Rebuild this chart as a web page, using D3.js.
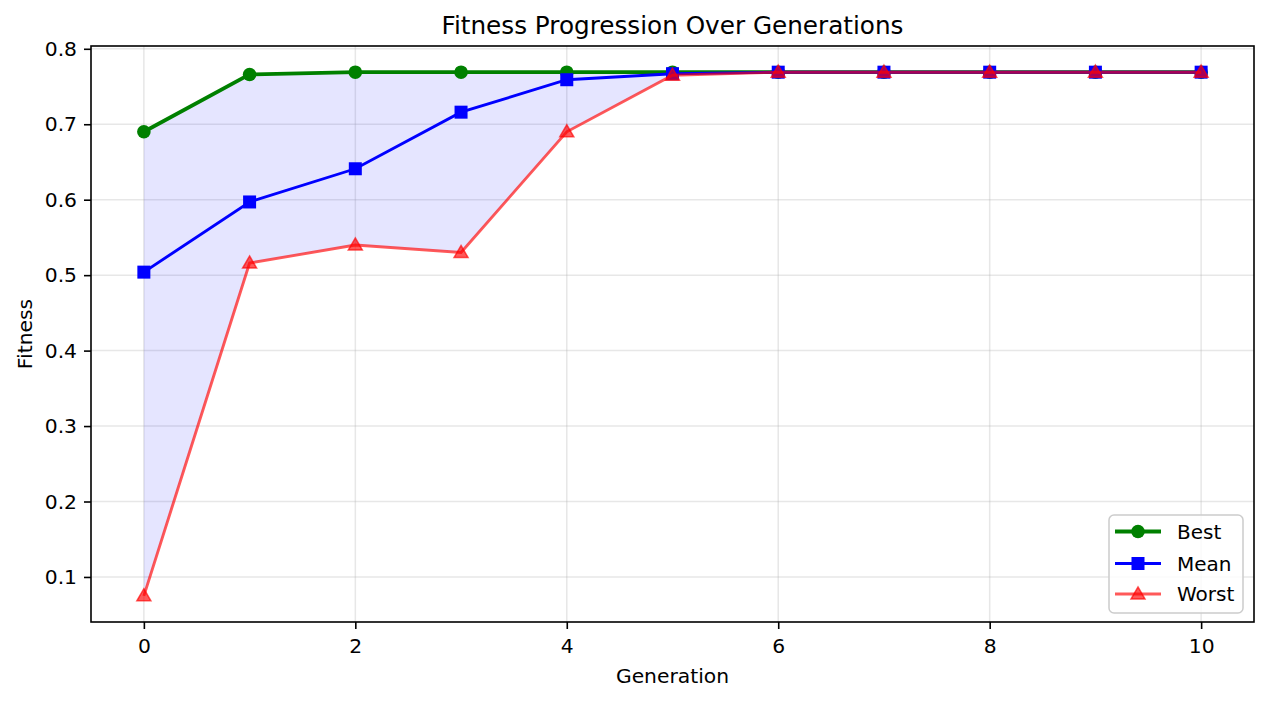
<!DOCTYPE html>
<html><head><meta charset="utf-8">
<script src="https://cdn.jsdelivr.net/npm/d3@7"></script>
<style>body{margin:0;background:#fff;}svg{display:block;font-family:"DejaVu Sans",sans-serif;}</style>
</head><body>
<svg id="c" width="1268" height="701"></svg>
<script>
const generations = [0,1,2,3,4,5,6,7,8,9,10];
const bestFitness  = [0.690,0.766,0.769,0.769,0.769,0.769,0.769,0.769,0.769,0.769,0.769];
const meanFitness  = [0.504,0.597,0.641,0.716,0.759,0.767,0.769,0.769,0.769,0.769,0.769];
const worstFitness = [0.075,0.516,0.540,0.530,0.690,0.765,0.769,0.769,0.769,0.769,0.769];
const xTicks = [0,2,4,6,8,10];
const yTicks = [0.1,0.2,0.3,0.4,0.5,0.6,0.7,0.8];
const seriesNames = ["Best","Mean","Worst"];

const svg = d3.select("#c");
const L=91, R=1254, T=46, B=622;
const FS = 20.3;
const x = d3.scaleLinear().domain([-0.5,10.5]).range([L,R]);
const y = d3.scaleLinear().domain([0.0403,0.8037]).range([B,T]);

// grid
const g = svg.append("g");
g.selectAll(".gx").data(xTicks).join("line").attr("x1",d=>x(d)).attr("x2",d=>x(d)).attr("y1",T).attr("y2",B)
  .attr("stroke","#b0b0b0").attr("stroke-opacity",0.3).attr("stroke-width",1.5);
g.selectAll(".gy").data(yTicks).join("line").attr("y1",d=>y(d)).attr("y2",d=>y(d)).attr("x1",L).attr("x2",R)
  .attr("stroke","#b0b0b0").attr("stroke-opacity",0.3).attr("stroke-width",1.5);

// fill between worst and best
const area = d3.area().x((d,i)=>x(generations[i])).y0((d,i)=>y(worstFitness[i])).y1((d,i)=>y(bestFitness[i]));
svg.append("path").datum(generations).attr("d",area).attr("fill","blue").attr("fill-opacity",0.1);

const line = vals => d3.line().x((d,i)=>x(generations[i])).y((d,i)=>y(vals[i]))(vals);
const tri = d3.symbol().type(d3.symbolTriangle).size(85);

// Best
svg.append("path").attr("d",line(bestFitness)).attr("fill","none").attr("stroke","green").attr("stroke-width",3.8);
svg.selectAll(".bm").data(bestFitness).join("circle").attr("cx",(d,i)=>x(generations[i])).attr("cy",d=>y(d)).attr("r",6.8).attr("fill","green");
// Mean
svg.append("path").attr("d",line(meanFitness)).attr("fill","none").attr("stroke","blue").attr("stroke-width",2.9);
svg.selectAll(".mm").data(meanFitness).join("rect").attr("x",(d,i)=>x(generations[i])-6.5).attr("y",d=>y(d)-6.5).attr("width",13).attr("height",13).attr("fill","blue");
// Worst
svg.append("path").attr("d",line(worstFitness)).attr("fill","none").attr("stroke","red").attr("stroke-opacity",0.65).attr("stroke-width",2.9);
svg.selectAll(".wm").data(worstFitness).join("path").attr("d",tri).attr("transform",(d,i)=>`translate(${x(generations[i])},${y(d)+1})`).attr("fill","red").attr("fill-opacity",0.65).attr("stroke","red").attr("stroke-opacity",0.65).attr("stroke-width",1.5);

// axes
const xa = svg.append("g").attr("transform",`translate(0,${B})`).call(d3.axisBottom(x).tickValues(xTicks).tickFormat(d3.format("d")).tickSize(7).tickPadding(10));
const ya = svg.append("g").attr("transform",`translate(${L},0)`).call(d3.axisLeft(y).tickValues(yTicks).tickFormat(d3.format(".1f")).tickSize(7).tickPadding(7));
[xa,ya].forEach(a=>{a.select(".domain").remove();a.selectAll("text").attr("font-size",FS).attr("fill","#000").attr("font-family","DejaVu Sans");a.selectAll("line").attr("stroke","#000").attr("stroke-width",1.6);});
svg.append("rect").attr("x",L).attr("y",T).attr("width",R-L).attr("height",B-T).attr("fill","none").attr("stroke","#000").attr("stroke-width",1.6);

// labels
svg.append("text").attr("x",(L+R)/2).attr("y",34).attr("text-anchor","middle").attr("font-size",24.7).text("Fitness Progression Over Generations");
svg.append("text").attr("x",(L+R)/2).attr("y",683).attr("text-anchor","middle").attr("font-size",FS).text("Generation");
svg.append("text").attr("transform",`translate(32,${(T+B)/2}) rotate(-90)`).attr("text-anchor","middle").attr("font-size",FS).text("Fitness");

// legend
const lg = svg.append("g");
lg.append("rect").attr("x",1109).attr("y",515).attr("width",134).attr("height",98).attr("rx",5).attr("fill","#fff").attr("fill-opacity",0.8).attr("stroke","#cccccc").attr("stroke-width",1.5);
const rows=[531.5,563.5,594];
const lx1=1115, lx2=1161, lm=1138;
lg.append("line").attr("x1",lx1).attr("x2",lx2).attr("y1",rows[0]).attr("y2",rows[0]).attr("stroke","green").attr("stroke-width",3.8);
lg.append("circle").attr("cx",lm).attr("cy",rows[0]).attr("r",6.8).attr("fill","green");
lg.append("line").attr("x1",lx1).attr("x2",lx2).attr("y1",rows[1]).attr("y2",rows[1]).attr("stroke","blue").attr("stroke-width",2.9);
lg.append("rect").attr("x",lm-6.5).attr("y",rows[1]-6.5).attr("width",13).attr("height",13).attr("fill","blue");
lg.append("line").attr("x1",lx1).attr("x2",lx2).attr("y1",rows[2]).attr("y2",rows[2]).attr("stroke","red").attr("stroke-opacity",0.65).attr("stroke-width",2.9);
lg.append("path").attr("d",tri).attr("transform",`translate(${lm},${rows[2]+1})`).attr("fill","red").attr("fill-opacity",0.65).attr("stroke","red").attr("stroke-opacity",0.65).attr("stroke-width",1.5);
lg.selectAll(".lt").data(seriesNames).join("text").attr("x",1177).attr("y",(d,i)=>rows[i]+7).attr("font-size",20).text(d=>d);
</script>
</body></html>
